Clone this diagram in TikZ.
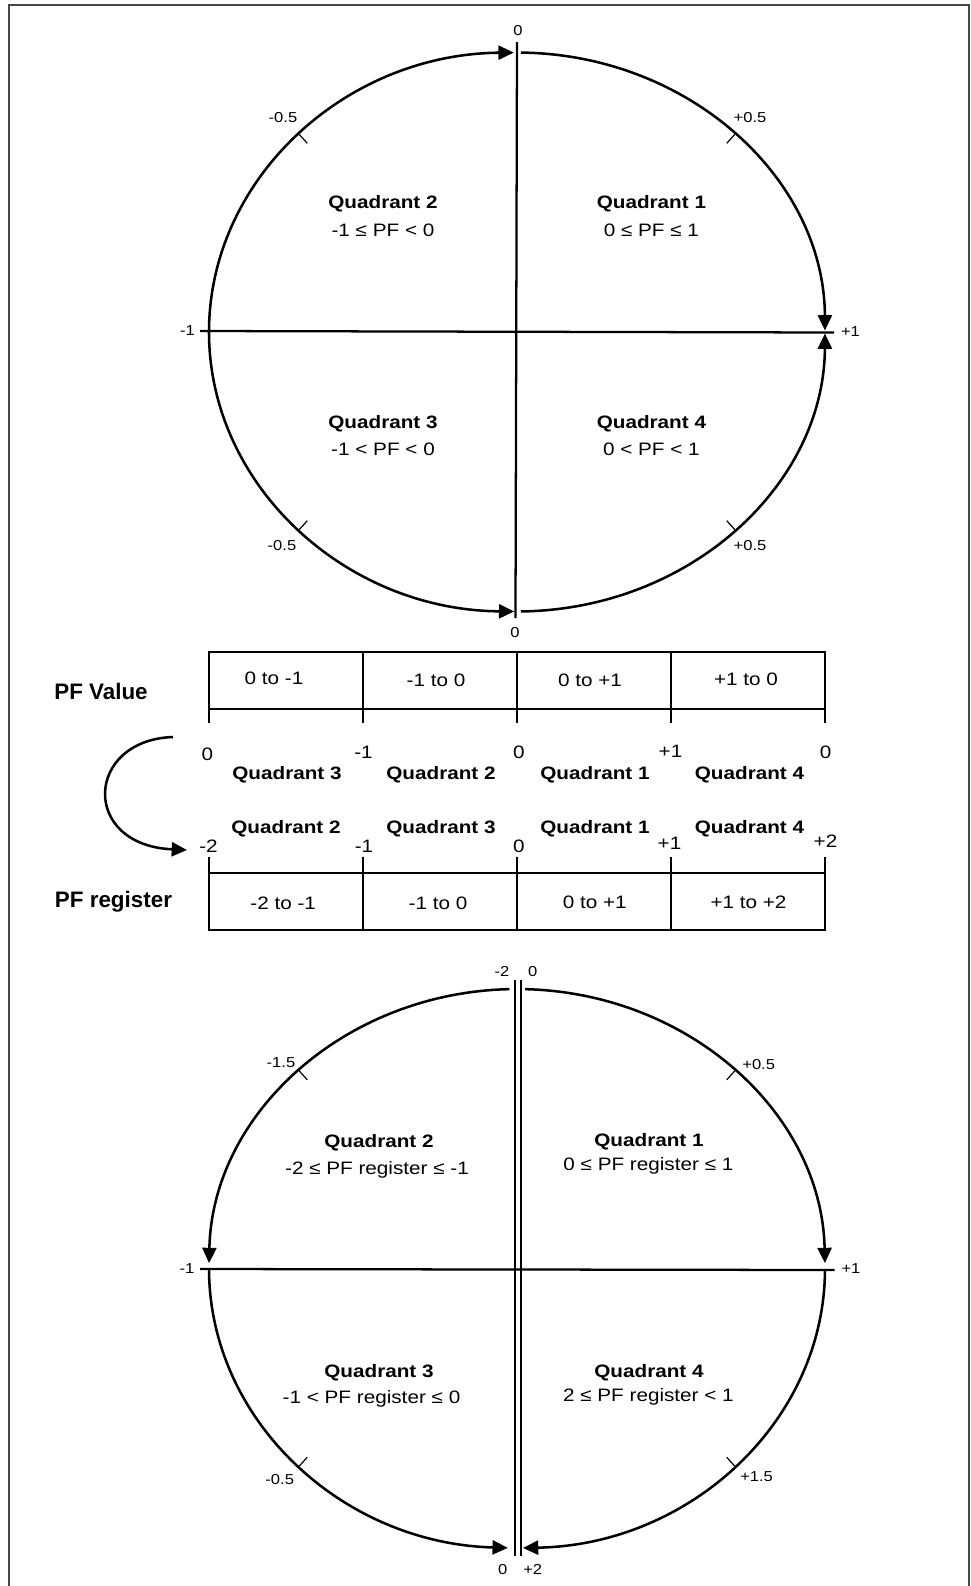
\documentclass[tikz,border=0pt]{standalone}
\usepackage{fontspec}
\setmainfont{Liberation Sans}
\newfontfamily\lab[FakeStretch=1.15]{Liberation Sans}
\usetikzlibrary{arrows.meta}
\begin{document}
\begin{tikzpicture}[x=0.75pt,y=0.75pt,
  arcln/.style={line width=1.9pt, -{Triangle[length=11.5pt,width=10.5pt]}},
  ell/.style={x radius=231pt, y radius=209.6pt},
  axisln/.style={line width=1.7pt},
  dblln/.style={line width=1.2pt},
  tickln/.style={line width=0.9pt},
  tabln/.style={line width=1.7pt},
  frameln/.style={line width=1.3pt, draw=black!72},
  qt/.style={anchor=base, inner sep=0pt, font=\lab\bfseries\fontsize{13.5pt}{15pt}\selectfont},
  qr/.style={anchor=base, inner sep=0pt, font=\lab\fontsize{13.5pt}{15pt}\selectfont},
  sm/.style={anchor=base, inner sep=0pt, font=\lab\fontsize{10.8pt}{12pt}\selectfont},
  big/.style={anchor=base, inner sep=0pt, font=\bfseries\fontsize{16.8pt}{19pt}\selectfont}
]
\useasboundingbox (0,0) rectangle (971,-1586);
% frame
\draw[frameln] (9,-1586) -- (9,-5) -- (969,-5) -- (969,-1586);

% ================= top circle =================
\coordinate (c1) at (517,-332);
\draw[axisln] (517,-42) -- (515.5,-618);
\draw[axisln] (200,-331) -- (834,-332.5);
\draw[arcln] (c1) ++(180:231pt and 209.6pt) arc[start angle=180, end angle=90.6, ell];
\draw[arcln] (c1) ++(89.3:231pt and 209.6pt) arc[start angle=89.3, end angle=0.3, ell];
\draw[arcln] (c1) ++(180:231pt and 209.6pt) arc[start angle=180, end angle=269.5, ell];
\draw[arcln] (c1) ++(270.7:231pt and 209.6pt) arc[start angle=270.7, end angle=359.7, ell];
\draw[tickln] (c1) ++(135:231pt and 209.6pt) -- ++(-47.8:9pt);
\draw[tickln] (c1) ++(45:231pt and 209.6pt) -- ++(227.8:9pt);
\draw[tickln] (c1) ++(225:231pt and 209.6pt) -- ++(47.8:9pt);
\draw[tickln] (c1) ++(315:231pt and 209.6pt) -- ++(132.2:9pt);

\node[sm] (t0top) at (518,-35) {0};
\node[sm] (tm05a) at (283,-122) {-0.5};
\node[sm] (tp05a) at (750,-122) {+0.5};
\node[sm] (tm1) at (187.5,-335) {-1};
\node[sm] (tp1) at (850.5,-336) {+1};
\node[sm] (tm05b) at (282,-550) {-0.5};
\node[sm] (tp05b) at (750,-550) {+0.5};
\node[sm] (t0bot) at (515,-637) {0};

\node[qt] (q2a) at (383,-208.5) {Quadrant 2};
\node[qr] (q2ar) at (383,-236.2) {-1 ≤ PF < 0};
\node[qt] (q1a) at (651.4,-208.5) {Quadrant 1};
\node[qr] (q1ar) at (651.4,-236.2) {0 ≤ PF ≤ 1};
\node[qt] (q3a) at (383,-428.5) {Quadrant 3};
\node[qr] (q3ar) at (383,-455.5) {-1 < PF < 0};
\node[qt] (q4a) at (651.4,-428.5) {Quadrant 4};
\node[qr] (q4ar) at (651.4,-455.5) {0 < PF < 1};

% ================= middle tables =================
\draw[tabln] (209,-652) rectangle (825,-709);
\foreach \x in {363,517,671} \draw[tabln] (\x,-652) -- (\x,-709);
\foreach \x in {209,363,517,671,825} \draw[tabln] (\x,-709) -- (\x,-723);

\node[qr] (v1) at (274,-684) {0 to -1};
\node[qr] (v2) at (436,-686) {-1 to 0};
\node[qr] (v3) at (590,-686) {0 to +1};
\node[qr] (v4) at (746,-685) {+1 to 0};
\node[big] (pfv) at (101,-699.4) {PF Value};

\node[qr] (n1a) at (207.5,-760) {0};
\node[qr] (n1b) at (363.5,-758) {-1};
\node[qr] (n1c) at (519,-758) {0};
\node[qr] (n1d) at (670.5,-757) {+1};
\node[qr] (n1e) at (825.5,-758) {0};

\node[qt] (m1a) at (287,-779) {Quadrant 3};
\node[qt] (m1b) at (441,-779) {Quadrant 2};
\node[qt] (m1c) at (595,-779) {Quadrant 1};
\node[qt] (m1d) at (749.5,-779) {Quadrant 4};

\node[qt] (m2a) at (286,-833.5) {Quadrant 2};
\node[qt] (m2b) at (441,-833.5) {Quadrant 3};
\node[qt] (m2c) at (595,-833.5) {Quadrant 1};
\node[qt] (m2d) at (749.5,-833.5) {Quadrant 4};

\node[qr] (n2a) at (208.5,-852) {-2};
\node[qr] (n2b) at (364,-852) {-1};
\node[qr] (n2c) at (519,-852) {0};
\node[qr] (n2d) at (669.5,-849) {+1};
\node[qr] (n2e) at (825.5,-847) {+2};

\foreach \x in {209,363,517,671,825} \draw[tabln] (\x,-857) -- (\x,-873);
\draw[tabln] (209,-873) rectangle (825,-930);
\foreach \x in {363,517,671} \draw[tabln] (\x,-873) -- (\x,-930);

\node[qr] (r1) at (283.2,-909.5) {-2 to -1};
\node[qr] (r2) at (438,-909.5) {-1 to 0};
\node[qr] (r3) at (594.8,-908.5) {0 to +1};
\node[qr] (r4) at (748.5,-908.5) {+1 to +2};
\node[big] (pfr) at (113.5,-907.7) {PF register};

\coordinate (cs) at (173,-737);
\coordinate (ce) at (187,-850);
\draw[arcln] (cs) .. controls (85,-740) and (80,-845) .. (ce);

% ================= bottom circle =================
\coordinate (c2) at (517,-1268.5);
\draw[dblln] (514.8,-980) -- (514.8,-1556);
\draw[dblln] (520.8,-980) -- (520.8,-1556);
\draw[axisln] (200,-1269) -- (834.5,-1270);
\draw[arcln] (c2) ++(91.4:231pt and 209.6pt) arc[start angle=91.4, end angle=178.9, ell];
\draw[arcln] (c2) ++(88.5:231pt and 209.6pt) arc[start angle=88.5, end angle=1.1, ell];
\draw[arcln] (c2) ++(180.3:231pt and 209.6pt) arc[start angle=180.3, end angle=268.3, ell];
\draw[arcln] (c2) ++(359.7:231pt and 209.6pt) arc[start angle=359.7, end angle=271.1, ell];
\draw[tickln] (c2) ++(135:231pt and 209.6pt) -- ++(-47.8:9pt);
\draw[tickln] (c2) ++(45:231pt and 209.6pt) -- ++(227.8:9pt);
\draw[tickln] (c2) ++(225:231pt and 209.6pt) -- ++(47.8:9pt);
\draw[tickln] (c2) ++(315:231pt and 209.6pt) -- ++(132.2:9pt);

\node[sm] (b2m2) at (502,-976) {-2};
\node[sm] (b2z) at (532.7,-976) {0};
\node[sm] (b2m15) at (281,-1067) {-1.5};
\node[sm] (b2p05) at (758.7,-1069) {+0.5};
\node[sm] (b2m1) at (187,-1273) {-1};
\node[sm] (b2p1) at (851,-1273) {+1};
\node[sm] (b2m05) at (279.7,-1484) {-0.5};
\node[sm] (b2p15) at (756.6,-1481.7) {+1.5};
\node[sm] (b2z2) at (502.8,-1574.3) {0};
\node[sm] (b2p2) at (532.7,-1574.3) {+2};

\node[qt] (q2b) at (379,-1147) {Quadrant 2};
\node[qr] (q2br) at (377,-1174) {-2 ≤ PF register ≤ -1};
\node[qt] (q1b) at (649,-1146) {Quadrant 1};
\node[qr] (q1br) at (648.4,-1170.5) {0 ≤ PF register ≤ 1};
\node[qt] (q3b) at (379,-1377) {Quadrant 3};
\node[qr] (q3br) at (371.5,-1403) {-1 < PF register ≤ 0};
\node[qt] (q4b) at (649,-1377) {Quadrant 4};
\node[qr] (q4br) at (648.4,-1401) {2 ≤ PF register < 1};
\end{tikzpicture}
\end{document}
